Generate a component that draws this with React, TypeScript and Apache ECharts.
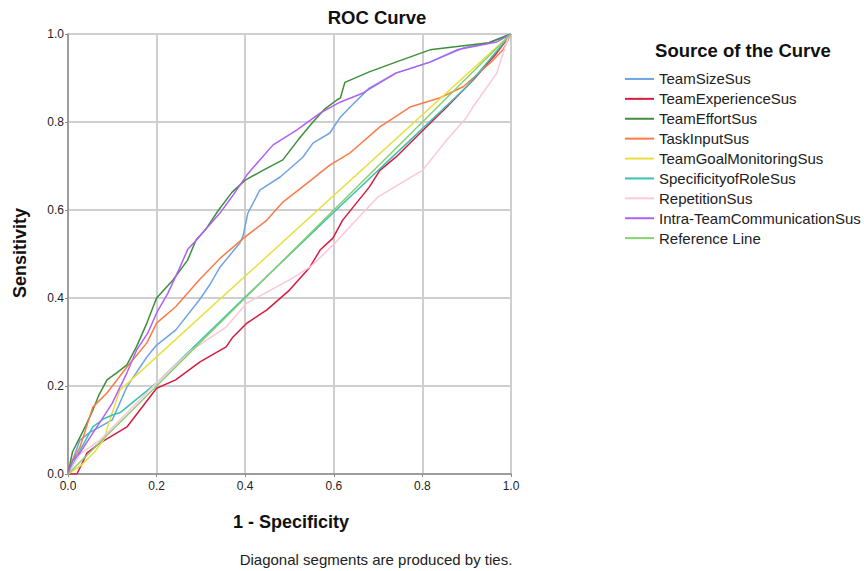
import React, { useEffect, useRef } from "react";
import * as echarts from "echarts";

const seriesNames = [
  "TeamSizeSus",
  "TeamExperienceSus",
  "TeamEffortSus",
  "TaskInputSus",
  "TeamGoalMonitoringSus",
  "SpecificityofRoleSus",
  "RepetitionSus",
  "Intra-TeamCommunicationSus",
  "Reference Line",
];

const seriesColors = [
  "#6ea4e6",
  "#d81a40",
  "#3d8f3a",
  "#fa7a48",
  "#e6e040",
  "#3cc0b0",
  "#fcc6dc",
  "#b060f6",
  "#88cf6e",
];

const teamSize = [
  [0, 0], [0.01, 0.03], [0.027, 0.077], [0.05, 0.095], [0.072, 0.107], [0.1, 0.123],
  [0.133, 0.198], [0.178, 0.266], [0.2, 0.293], [0.243, 0.327], [0.296, 0.395],
  [0.32, 0.43], [0.343, 0.47], [0.388, 0.525], [0.395, 0.54], [0.406, 0.593],
  [0.433, 0.645], [0.479, 0.675], [0.53, 0.72], [0.553, 0.752], [0.591, 0.775],
  [0.614, 0.81], [0.637, 0.834], [0.68, 0.877], [0.74, 0.911], [0.817, 0.936],
  [0.892, 0.968], [0.95, 0.98], [1, 1],
];

const teamExperience = [
  [0, 0], [0.02, 0], [0.03, 0.02], [0.043, 0.048], [0.072, 0.07], [0.133, 0.107],
  [0.2, 0.195], [0.243, 0.214], [0.298, 0.255], [0.357, 0.289], [0.372, 0.311],
  [0.404, 0.343], [0.449, 0.373], [0.5, 0.418], [0.546, 0.47], [0.569, 0.509],
  [0.598, 0.536], [0.62, 0.577], [0.68, 0.652], [0.704, 0.69], [0.74, 0.72],
  [0.795, 0.775], [0.855, 0.834], [0.914, 0.895], [0.968, 0.957], [1, 1],
];

const teamEffort = [
  [0, 0], [0.01, 0.05], [0.027, 0.084], [0.04, 0.11], [0.056, 0.145], [0.07, 0.18],
  [0.088, 0.214], [0.11, 0.23], [0.133, 0.248], [0.155, 0.29], [0.178, 0.343],
  [0.2, 0.4], [0.237, 0.441], [0.27, 0.486], [0.289, 0.532], [0.31, 0.555],
  [0.34, 0.6], [0.37, 0.64], [0.4, 0.668], [0.44, 0.69], [0.485, 0.714],
  [0.52, 0.76], [0.553, 0.8], [0.58, 0.83], [0.607, 0.85], [0.615, 0.855],
  [0.625, 0.89], [0.68, 0.914], [0.74, 0.936], [0.817, 0.964], [0.907, 0.975],
  [0.95, 0.98], [1, 1],
];

const taskInput = [
  [0, 0], [0.01, 0.03], [0.027, 0.061], [0.056, 0.152], [0.088, 0.184], [0.133, 0.243],
  [0.178, 0.298], [0.2, 0.343], [0.243, 0.38], [0.296, 0.441], [0.343, 0.49],
  [0.395, 0.535], [0.449, 0.577], [0.485, 0.618], [0.54, 0.661], [0.591, 0.702],
  [0.637, 0.73], [0.704, 0.789], [0.772, 0.834], [0.84, 0.855], [0.892, 0.88],
  [0.953, 0.934], [0.982, 0.964], [1, 1],
];

const teamGoalMonitoring = [
  [0, 0], [0.03, 0.02], [0.06, 0.05], [0.08, 0.077], [0.1, 0.14], [0.117, 0.19], [1, 1],
];

const specificityOfRole = [
  [0, 0], [0.02, 0.04], [0.056, 0.107], [0.08, 0.125], [0.1, 0.134], [0.117, 0.139],
  [0.2, 0.207], [0.4, 0.402], [0.6, 0.595], [0.8, 0.785], [0.9, 0.88], [0.95, 0.94], [1, 1],
];

const repetition = [
  [0, 0], [0.027, 0.045], [0.072, 0.077], [0.133, 0.139], [0.2, 0.207], [0.28, 0.282],
  [0.357, 0.334], [0.404, 0.389], [0.5, 0.441], [0.546, 0.47], [0.603, 0.525],
  [0.63, 0.555], [0.7, 0.63], [0.75, 0.66], [0.8, 0.69], [0.855, 0.759], [0.9, 0.811],
  [0.914, 0.834], [0.968, 0.911], [0.975, 0.934], [0.993, 0.99], [1, 1],
];

const intraTeamCommunication = [
  [0, 0], [0.01, 0.03], [0.027, 0.048], [0.056, 0.093], [0.08, 0.13], [0.1, 0.161],
  [0.133, 0.23], [0.155, 0.282], [0.18, 0.32], [0.2, 0.366], [0.225, 0.41],
  [0.25, 0.464], [0.27, 0.51], [0.29, 0.532], [0.31, 0.555], [0.343, 0.593],
  [0.37, 0.63], [0.404, 0.68], [0.43, 0.71], [0.463, 0.748], [0.517, 0.782],
  [0.569, 0.82], [0.614, 0.845], [0.666, 0.866], [0.74, 0.911], [0.817, 0.936],
  [0.878, 0.964], [0.968, 0.982], [1, 1],
];

const referenceLine = [
  [0, 0], [1, 1],
];

const seriesData = [
  teamSize,
  teamExperience,
  teamEffort,
  taskInput,
  teamGoalMonitoring,
  specificityOfRole,
  repetition,
  intraTeamCommunication,
  referenceLine,
];

const FONT = "'Liberation Sans', Arial, sans-serif";

export default function App() {
  const ref = useRef<HTMLDivElement>(null);

  useEffect(() => {
    if (!ref.current) return;
    const chart = echarts.init(ref.current, null, { renderer: "svg" });
    const axisCommon = {
      type: "value",
      min: 0,
      max: 1,
      interval: 0.2,
      axisLine: { show: true, lineStyle: { color: "#8c8c8c", width: 1.5 } },
      axisTick: { show: true, length: 3, lineStyle: { color: "#8c8c8c", width: 1 } },
      splitLine: { show: true, lineStyle: { color: "#cfcfcf", width: 2 } },
    };
    chart.setOption({
      animation: false,
      backgroundColor: "#ffffff",
      textStyle: { fontFamily: FONT },
      grid: { left: 68, right: 353, top: 34, bottom: 97, containLabel: false },
      xAxis: {
        ...axisCommon,
        axisLabel: {
          color: "#222",
          fontSize: 12,
          fontFamily: FONT,
          margin: 6,
          formatter: (v: number) => v.toFixed(1),
        },
      },
      yAxis: {
        ...axisCommon,
        axisLabel: {
          color: "#222",
          fontSize: 12,
          fontFamily: FONT,
          margin: 4,
          formatter: (v: number) => v.toFixed(1),
        },
      },
      legend: {
        orient: "vertical",
        left: 620,
        top: 64,
        itemWidth: 29,
        itemHeight: 2,
        itemGap: 0,
        icon: "rect",
        data: seriesNames,
        textStyle: {
          fontSize: 15,
          color: "#222",
          fontFamily: FONT,
          lineHeight: 19.9,
        },
      },
      graphic: [
        {
          type: "text",
          x: 377,
          y: 17,
          style: {
            text: "ROC Curve",
            font: `bold 18.5px ${FONT}`,
            fill: "#111",
            align: "center",
            verticalAlign: "middle",
          },
        },
        {
          type: "text",
          x: 743,
          y: 50,
          style: {
            text: "Source of the Curve",
            font: `bold 18.5px ${FONT}`,
            fill: "#111",
            align: "center",
            verticalAlign: "middle",
          },
        },
        {
          type: "text",
          x: 20,
          y: 253,
          rotation: Math.PI / 2,
          style: {
            text: "Sensitivity",
            font: `bold 18px ${FONT}`,
            fill: "#111",
            align: "center",
            verticalAlign: "middle",
          },
        },
        {
          type: "text",
          x: 291,
          y: 522,
          style: {
            text: "1 - Specificity",
            font: `bold 18px ${FONT}`,
            fill: "#111",
            align: "center",
            verticalAlign: "middle",
          },
        },
        {
          type: "text",
          x: 376,
          y: 559,
          style: {
            text: "Diagonal segments are produced by ties.",
            font: `15px ${FONT}`,
            fill: "#222",
            align: "center",
            verticalAlign: "middle",
          },
        },
      ],
      series: seriesNames.map((name, i) => ({
        name,
        type: "line",
        data: seriesData[i],
        showSymbol: false,
        symbol: "none",
        color: seriesColors[i],
        lineStyle: { color: seriesColors[i], width: 1.5 },
        z: 2,
      })),
    });
    return () => chart.dispose();
  }, []);

  return (
    <div
      ref={ref}
      style={{ position: "fixed", left: 0, top: 0, width: 864, height: 571 }}
    />
  );
}
